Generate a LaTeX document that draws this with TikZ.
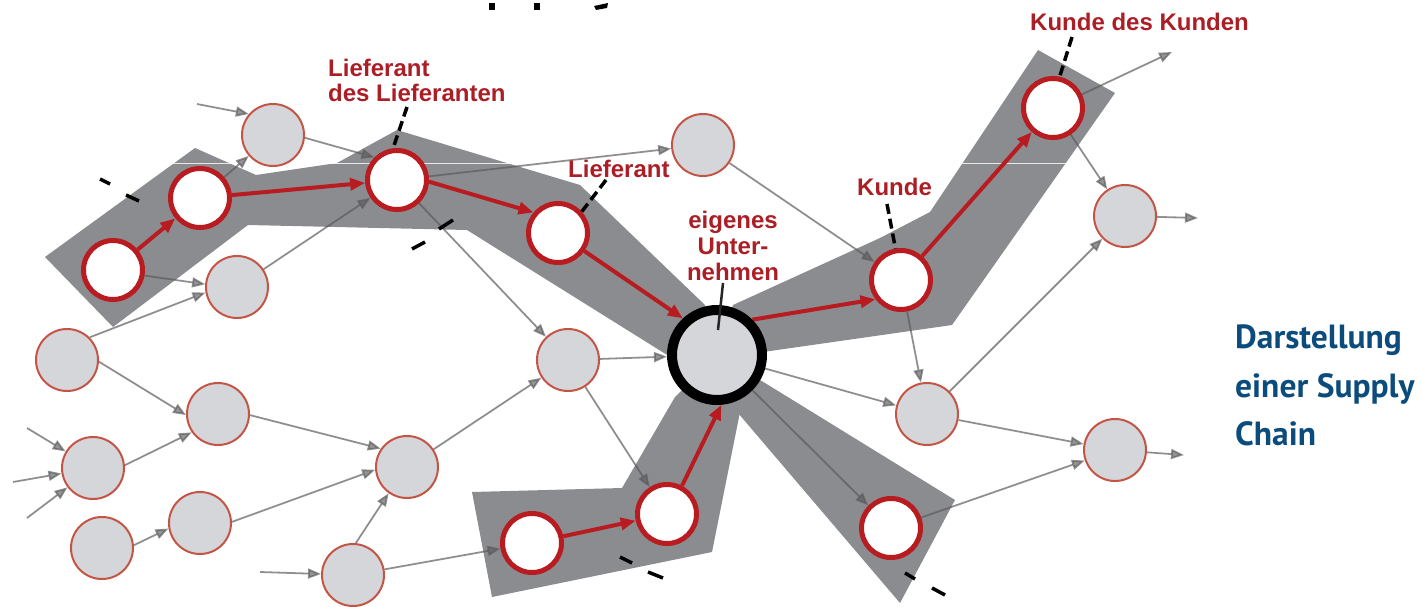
\documentclass[tikz,border=0pt]{standalone}
\usepackage{fontspec}
\setmainfont{Liberation Sans}
\newfontfamily\titlefont{PT Sans}
\usetikzlibrary{arrows.meta}
\pgfdeclarelayer{bg}
\pgfdeclarelayer{mid}
\pgfsetlayers{bg,mid,main}
\definecolor{bandgray}{RGB}{139,140,143}
\definecolor{nodegray}{RGB}{212,214,218}
\definecolor{nodeline}{RGB}{196,84,68}
\definecolor{chainred}{RGB}{185,28,32}
\definecolor{labelred}{RGB}{172,30,38}
\definecolor{arrowgray}{RGB}{90,90,92}
\definecolor{titleblue}{RGB}{12,76,124}
\begin{document}
\begin{tikzpicture}[x=1pt,y=-1pt,
  graynode/.style={circle,minimum size=62pt,inner sep=0pt,fill=nodegray,draw=nodeline,line width=2pt},
  chainnode/.style={circle,minimum size=59pt,inner sep=0pt,fill=white,draw=chainred,line width=5pt},
  ownnode/.style={circle,minimum size=90pt,inner sep=0pt,fill=nodegray,draw=black,line width=10pt},
  band/.style={fill=bandgray,draw=none},
  flow/.style={draw=arrowgray,fill=arrowgray,opacity=0.65,line width=1.8pt,-{Triangle[length=13pt,width=10pt]}},
  chainflow/.style={draw=chainred,line width=4pt,-{Triangle[length=15pt,width=12pt]}},
  lbl/.style={font=\fontsize{24}{26}\selectfont\bfseries,text=labelred,inner sep=0pt},
  leader/.style={draw=black,line width=3.5pt,dash pattern=on 10pt off 5pt},
  cutmark/.style={draw=black,line width=3.5pt},
  titletext/.style={font=\titlefont\bfseries\fontsize{33.5}{36}\selectfont,text=titleblue,inner sep=0pt,anchor=base west},
]
\useasboundingbox (0,0) rectangle (1423,607);

% nodes
\node[chainnode] (a1) at (113,270) {};
\node[chainnode] (a2) at (200,198) {};
\node[chainnode] (a3) at (397,180) {};
\node[chainnode] (a4) at (558,233) {};
\node[ownnode] (own) at (717,355) {};
\node[chainnode] (k1) at (901,280) {};
\node[chainnode] (k2) at (1053,108) {};
\node[chainnode] (b1) at (532,543) {};
\node[chainnode] (b2) at (667,514) {};
\node[chainnode] (c1) at (891,528) {};

\node[graynode] (g1) at (273,135) {};
\node[graynode] (g2) at (237,287) {};
\node[graynode] (g3) at (703,145) {};
\node[graynode] (g4) at (1125,216) {};
\node[graynode] (g5) at (67,360) {};
\node[graynode] (g6) at (218,414) {};
\node[graynode] (g7) at (93,468) {};
\node[graynode] (g8) at (102,548) {};
\node[graynode] (g9) at (200,523) {};
\node[graynode] (g10) at (407,467) {};
\node[graynode] (g11) at (353,575) {};
\node[graynode] (g12) at (568,360) {};
\node[graynode] (g13) at (927,414) {};
\node[graynode] (g14) at (1115,450) {};

\coordinate (in1) at (197,104);
\coordinate (in2) at (27,428);
\coordinate (in3) at (13,482);
\coordinate (in4) at (27,518);
\coordinate (in5) at (260,572);
\coordinate (out1) at (1172,52);
\coordinate (out2) at (1198,218);
\coordinate (out3) at (1184,455);

% bands
\begin{pgfonlayer}{bg}
\fill[band] (45,257) -- (195,148) -- (256,175) -- (337,163) -- (397,130) -- (580,185) -- (705,305) -- (717,355) -- (672,358) -- (467,230) -- (248,225) -- (113,327) -- cycle;
\fill[band] (733,305) -- (880,238) -- (930,212) -- (1038,50) -- (1115,93) -- (952,325) -- (763,352) -- (717,355) -- cycle;
\fill[band] (472,492) -- (622,488) -- (675,397) -- (717,355) -- (740,412) -- (712,552) -- (492,597) -- cycle;
\fill[band] (765,383) -- (955,500) -- (900,603) -- (738,413) -- (717,355) -- cycle;
\end{pgfonlayer}

\begin{pgfonlayer}{mid}
\draw[white,line width=0.8pt,opacity=0.8] (15,163.5) -- (1423,163.5);
% gray flows
\draw[flow] (in1) -- (g1.139);
\draw[flow] (a2) -- (g1);
\draw[flow] (g1.-5) -- (a3.135);
\draw[flow] (a1.-10) -- (g2.175);
\draw[flow] (g5.45) -- (g2.190);
\draw[flow] (g2) -- (a3);
\draw[flow] (a3) -- (g3);
\draw[flow] (a3) -- (g12);
\draw[flow] (g3) -- (k1);
\draw[flow] (g12) -- (own);
\draw[flow] (g10) -- (g12);
\draw[flow] (g12) -- (b2);
\draw[flow] (g11) -- (b1);
\draw[flow] (own) -- (g13);
\draw[flow] (own) -- (c1);
\draw[flow] (k1) -- (g13);
\draw[flow] (g13) -- (g4);
\draw[flow] (g13) -- (g14);
\draw[flow] (c1) -- (g14);
\draw[flow] (k2) -- (out1);
\draw[flow] (k2) -- (g4);
\draw[flow] (g4) -- (out2);
\draw[flow] (g14) -- (out3);
\draw[flow] (in2) -- (g7);
\draw[flow] (in3) -- (g7);
\draw[flow] (in4) -- (g7);
\draw[flow] (g5.-3) -- (g6.182);
\draw[flow] (g7.5) -- (g6.215);
\draw[flow] (g6.-2) -- (g10.145);
\draw[flow] (g9.2) -- (g10.185);
\draw[flow] (g8.5) -- (g9.190);
\draw[flow] (in5) -- (g11);
\draw[flow] (g11.85) -- (g10.235);
% red chain flows
\draw[chainflow] (a1) -- (a2);
\draw[chainflow] (a2) -- (a3);
\draw[chainflow] (a3.-3) -- (a4.140);
\draw[chainflow] (a4) -- (own.133);
\draw[chainflow] (own.45) -- (k1.217);
\draw[chainflow] (k1) -- (k2);
\draw[chainflow] (b1) -- (b2);
\draw[chainflow] (b2.62) -- (own.-85);
\end{pgfonlayer}

% labels
\node[lbl,anchor=base west] (l1a) at (328,77) {Lieferant};
\node[lbl,anchor=base west] (l1b) at (328,102) {des Lieferanten};
\node[lbl,anchor=base west] (l2) at (568,177) {Lieferant};
\node[lbl,anchor=base] (l3a) at (733,228) {eigenes};
\node[lbl,anchor=base] (l3b) at (733,254) {Unter-};
\node[lbl,anchor=base] (l3c) at (733,280) {nehmen};
\node[lbl,anchor=base west] (l4) at (857,195) {Kunde};
\node[lbl,anchor=base west] (l5) at (1030,31) {Kunde des Kunden};

\coordinate (ld1) at (407,107);
\coordinate (ld2) at (606,180);
\coordinate (ld3) at (723,283);
\coordinate (ld3e) at (718,330);
\coordinate (ld4) at (887,204);
\coordinate (ld5) at (1072,37);
\draw[leader] (ld1) -- (a3.97);
\draw[leader] (ld2) -- (a4.42);
\draw[leader] (ld4) -- (k1.100);
\draw[leader] (ld5) -- (k2.78);
\draw[black!85,line width=2.5pt] (ld3) -- (ld3e);

% cut marks
\draw[cutmark] (100,179) -- (110,184);
\draw[cutmark] (126,195) -- (139,201);
\draw[cutmark] (412,249) -- (425,242);
\draw[cutmark] (439,229) -- (453,220);
\draw[cutmark] (620,557) -- (632,563);
\draw[cutmark] (648,572) -- (663,578);
\draw[cutmark] (905,573) -- (915,579);
\draw[cutmark] (932,588) -- (945,595);

% cropped title fragments
\fill[black] (489,3) rectangle (495,10);
\fill[black] (534,3) rectangle (540,10);
\fill[black] (594,6) -- (608,3) -- (607,8) -- (596,10) -- cycle;

% caption
\node[titletext] (t1) at (1235,348) {Darstellung};
\node[titletext] (t2) at (1235,397) {einer Supply};
\node[titletext] (t3) at (1235,445) {Chain};
\end{tikzpicture}
\end{document}
